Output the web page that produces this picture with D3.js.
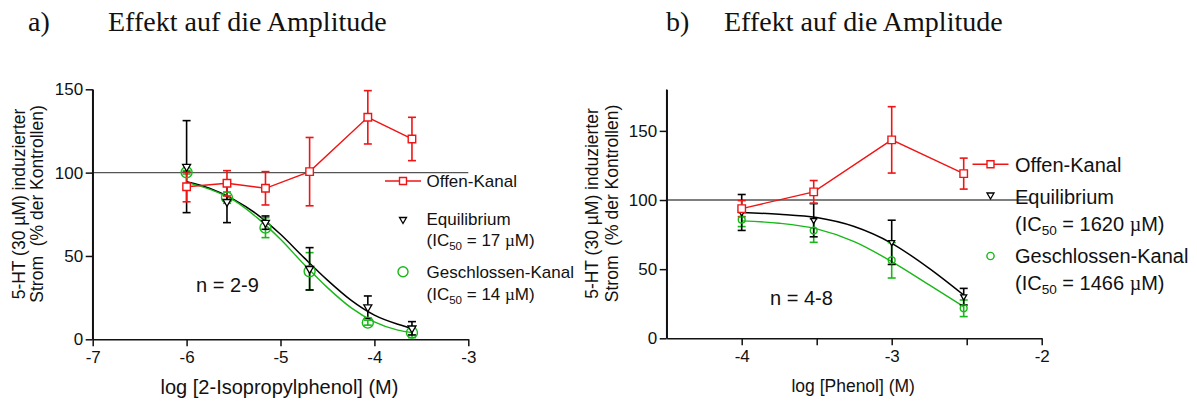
<!DOCTYPE html>
<html>
<head>
<meta charset="utf-8">
<script src="https://cdn.jsdelivr.net/npm/d3@7"></script>
<style>
body{margin:0;background:#fff}
text{font-family:"Liberation Sans",Arial,sans-serif;fill:#111}
</style>
</head>
<body>
<svg id="chart" width="1197" height="403"></svg>
<script>
// a) 2-Isopropylphenol
var xA = [-6, -5.57, -5.16, -4.69, -4.07, -3.6];
var offenA = [91.5, 93.6, 90.6, 100.6, 133.2, 120.2];
var offenErrA = [9, 7.6, 10, 20.5, 16, 13];
var equiA = [103.6, 82.5, 70, 42.3, 19.3, 6.6];
var equiErrA = [27.6, 12.5, 4, 12.7, 6.7, 4];
var geschA = [100.2, 85, 67, 40.8, 10, 4];
var geschErrA = [1, 3.4, 6, 11.2, 1.5, 3];
// fit curves
var fitXA = [-6, -5.75, -5.5, -5.25, -5, -4.75, -4.5, -4.25, -4, -3.75, -3.6];
var fitEquiA = [94.5, 90.5, 84, 75, 63, 49, 35.5, 23.5, 14.5, 9, 6.5];
var fitGeschA = [94, 90, 83.5, 73, 60, 45, 31, 19, 10.5, 5.5, 4];
var xTicksA = [-7, -6, -5, -4, -3];
var yTicksA = [0, 50, 100, 150];

// b) Phenol
var xB = [-4, -3.52, -3, -2.52];
var offenB = [93.8, 105.9, 143.5, 119.1];
var offenErrB = [5.8, 8.2, 24, 11.2];
var equiB = [91, 85.4, 69.4, 30.1];
var equiErrB = [13, 12, 16, 6];
var geschB = [85.8, 77.9, 56.4, 21.7];
var geschErrB = [5, 8.5, 12.8, 6];
var fitXB = [-4, -3.75, -3.5, -3.25, -3, -2.75, -2.52];
var fitEquiB = [90.9, 89.7, 87.3, 80.8, 68.7, 50.6, 31.3];
var fitGeschB = [84.9, 83.2, 79.1, 69.9, 55.5, 38.6, 22.9];
var xTicksB = [-4, -3.5, -3, -2.5, -2];
var yTicksB = [0, 50, 100, 150];

var RED = '#f01414', GREEN = '#18b818', BLACK = '#000';

var svg = d3.select('#chart');
svg.append('rect').attr('width', 1197).attr('height', 403).attr('fill', '#fff');

function marker(g, kind, cx, cy, sz, color) {
  if (kind == 'circle') {
    g.append('circle').attr('cx', cx).attr('cy', cy).attr('r', sz)
      .attr('fill', 'none').attr('stroke', color).attr('stroke-width', 1.4);
  } else if (kind == 'square') {
    g.append('path').attr('d', d3.symbol(d3.symbolSquare, sz * sz)())
      .attr('transform', 'translate(' + cx + ',' + cy + ')')
      .attr('fill', '#fff').attr('stroke', color).attr('stroke-width', 1.4);
  } else {
    g.append('path').attr('d', d3.symbol(d3.symbolTriangle, sz * sz * 0.433)())
      .attr('transform', 'translate(' + cx + ',' + cy + ') rotate(180)')
      .attr('fill', '#fff').attr('stroke', color).attr('stroke-width', 1.3);
  }
}

function panel(o) {
  var g = svg.append('g');
  var x = d3.scaleLinear().domain(o.xDomain).range(o.xRange);
  var y = d3.scaleLinear().domain(o.yDomain).range(o.yRange);

  // 100 % line
  g.append('line').attr('x1', x(o.xDomain[0])).attr('x2', x(o.refEnd))
    .attr('y1', y(100)).attr('y2', y(100)).attr('stroke', '#555').attr('stroke-width', 1.3);

  var xa = g.append('g').attr('transform', 'translate(0,' + o.yRange[0] + ')')
    .call(d3.axisBottom(x).tickValues(o.xTicks).tickSize(7).tickSizeOuter(0).tickPadding(5)
      .tickFormat(function(d) { return Number.isInteger(d) ? String(d) : ''; }));
  var ya = g.append('g').attr('transform', 'translate(' + o.xRange[0] + ',0)')
    .call(d3.axisLeft(y).tickValues(o.yTicks).tickSize(7).tickSizeOuter(0).tickPadding(2.5));
  [xa, ya].forEach(function(a) {
    a.select('.domain').attr('stroke', '#111').attr('stroke-width', 1.5);
    a.selectAll('.tick line').attr('stroke', '#111').attr('stroke-width', 1.5);
    a.selectAll('text').attr('font-family', '"Liberation Sans",Arial,sans-serif')
      .attr('font-size', o.tickFont).attr('fill', '#111');
  });
  // y axis reaches above the last tick
  g.append('line').attr('x1', o.xRange[0]).attr('x2', o.xRange[0])
    .attr('y1', y(o.yDomain[1])).attr('y2', y(0)).attr('stroke', '#111').attr('stroke-width', 1.5);

  var line = d3.line().x(function(d) { return x(d[0]); }).y(function(d) { return y(d[1]); });
  var smooth = d3.line().curve(d3.curveMonotoneX).x(function(d) { return x(d[0]); }).y(function(d) { return y(d[1]); });

  g.append('path').attr('d', smooth(d3.zip(o.fitX, o.fitEqui)))
    .attr('fill', 'none').attr('stroke', BLACK).attr('stroke-width', 1.5);
  g.append('path').attr('d', smooth(d3.zip(o.fitX, o.fitGesch)))
    .attr('fill', 'none').attr('stroke', GREEN).attr('stroke-width', 1.4);
  g.append('path').attr('d', line(d3.zip(o.xs, o.offen)))
    .attr('fill', 'none').attr('stroke', RED).attr('stroke-width', 1.4);

  var sets = [
    {v: o.gesch, e: o.geschErr, c: GREEN, k: 'circle', s: o.circR},
    {v: o.equi, e: o.equiErr, c: BLACK, k: 'tri', s: o.triS},
    {v: o.offen, e: o.offenErr, c: RED, k: 'square', s: o.sqS}
  ];
  sets.forEach(function(s) {
    o.xs.forEach(function(xv, i) {
      var px = x(xv), hi = y(s.v[i] + s.e[i]), lo = y(s.v[i] - s.e[i]);
      g.append('line').attr('x1', px).attr('x2', px).attr('y1', hi).attr('y2', lo)
        .attr('stroke', s.c).attr('stroke-width', 1.6);
      [hi, lo].forEach(function(yy) {
        g.append('line').attr('x1', px - 4).attr('x2', px + 4).attr('y1', yy).attr('y2', yy)
          .attr('stroke', s.c).attr('stroke-width', 1.6);
      });
    });
  });
  sets.forEach(function(s) {
    o.xs.forEach(function(xv, i) { marker(g, s.k, x(xv), y(s.v[i]), s.s, s.c); });
  });

  // axis titles
  g.append('text').attr('x', (o.xRange[0] + o.xRange[1]) / 2 + o.xLabelShift).attr('y', o.xLabelY)
    .attr('text-anchor', 'middle').attr('font-size', o.xLabelFont).text(o.xLabel);
  o.yLabel.forEach(function(t, i) {
    g.append('text').attr('transform', 'translate(' + o.yLabelX[i] + ',' + o.yLabelMid + ') rotate(-90)')
      .attr('text-anchor', 'middle').attr('font-size', o.yLabelFont)
      .style('white-space', 'pre').text(t);
  });
  g.append('text').attr('x', o.nPos[0]).attr('y', o.nPos[1]).attr('font-size', 20).text(o.nText);

  // legend
  var L = o.legend;
  g.append('line').attr('x1', L.x - L.lineHalf).attr('x2', L.x + L.lineHalf)
    .attr('y1', L.rows[0]).attr('y2', L.rows[0]).attr('stroke', RED).attr('stroke-width', 1.4);
  marker(g, 'square', L.x, L.rows[0], L.sq, RED);
  marker(g, 'tri', L.x, L.rows[1], L.tri, BLACK);
  marker(g, 'circle', L.x, L.rows[3], L.circ, GREEN);
  L.texts.forEach(function(t, i) {
    var tx = g.append('text').attr('x', L.tx).attr('y', L.base[i]).attr('font-size', L.font);
    if (t.ic) {
      tx.append('tspan').text('(IC');
      tx.append('tspan').attr('font-size', L.font * 0.68).attr('dy', 4).text('50');
      tx.append('tspan').attr('dy', -4).text(' = ' + t.ic + ' ');
      tx.append('tspan').attr('font-family', '"Liberation Serif",serif').text('\u00b5');
      tx.append('tspan').text('M)');
    } else {
      tx.text(t.label);
    }
  });
}

panel({
  xDomain: [-7, -3], xRange: [92.7, 468.3], yDomain: [0, 150], yRange: [339.3, 89.3],
  refEnd: -3, xTicks: xTicksA, yTicks: yTicksA, tickFont: 17,
  xs: xA, offen: offenA, offenErr: offenErrA, equi: equiA, equiErr: equiErrA,
  gesch: geschA, geschErr: geschErrA,
  fitX: fitXA, fitEqui: fitEquiA, fitGesch: fitGeschA,
  circR: 5.5, triS: 8, sqS: 7.5,
  xLabel: 'log [2-Isopropylphenol] (M)', xLabelY: 394, xLabelFont: 20, xLabelShift: -1,
  yLabel: ['5-HT (30 \u00b5M) induzierter', 'Strom  (% der Kontrollen)'],
  yLabelX: [24.5, 43], yLabelMid: 204, yLabelFont: 17.5,
  nText: 'n = 2-9', nPos: [196, 291.5],
  legend: {x: 403, lineHalf: 18, sq: 7, tri: 7, circ: 5, tx: 426.5, font: 17,
    rows: [181, 219.5, 0, 271.7],
    base: [187, 224.5, 246, 277.5, 299.5],
    texts: [{label: 'Offen-Kanal'}, {label: 'Equilibrium'}, {ic: '17'},
            {label: 'Geschlossen-Kanal'}, {ic: '14'}]}
});

panel({
  xDomain: [-4.5, -2], xRange: [666.7, 1041.7], yDomain: [0, 180], yRange: [338.3, 89.4],
  refEnd: -2.07, xTicks: xTicksB, yTicks: yTicksB, tickFont: 17,
  xs: xB, offen: offenB, offenErr: offenErrB, equi: equiB, equiErr: equiErrB,
  gesch: geschB, geschErr: geschErrB,
  fitX: fitXB, fitEqui: fitEquiB, fitGesch: fitGeschB,
  circR: 3.4, triS: 6, sqS: 7.5,
  xLabel: 'log [Phenol] (M)', xLabelY: 392, xLabelFont: 17.5, xLabelShift: -1,
  yLabel: ['5-HT (30 \u00b5M) induzierter', 'Strom  (% der Kontrollen)'],
  yLabelX: [598, 617.5], yLabelMid: 203.5, yLabelFont: 17.5,
  nText: 'n = 4-8', nPos: [770, 305],
  legend: {x: 990.5, lineHalf: 18, sq: 7, tri: 7, circ: 3.6, tx: 1015, font: 20,
    rows: [164.3, 195, 0, 256],
    base: [172, 204, 231, 263, 290],
    texts: [{label: 'Offen-Kanal'}, {label: 'Equilibrium'}, {ic: '1620'},
            {label: 'Geschlossen-Kanal'}, {ic: '1466'}]}
});

// panel titles
[['a)', 28, 108], ['b)', 666, 724]].forEach(function(t) {
  svg.append('text').attr('x', t[1]).attr('y', 31).attr('font-size', 28)
    .style('font-family', '"Liberation Serif","Times New Roman",serif').text(t[0]);
  svg.append('text').attr('x', t[2]).attr('y', 31).attr('font-size', 28)
    .style('font-family', '"Liberation Serif","Times New Roman",serif').text('Effekt auf die Amplitude');
});
</script>
</body>
</html>
